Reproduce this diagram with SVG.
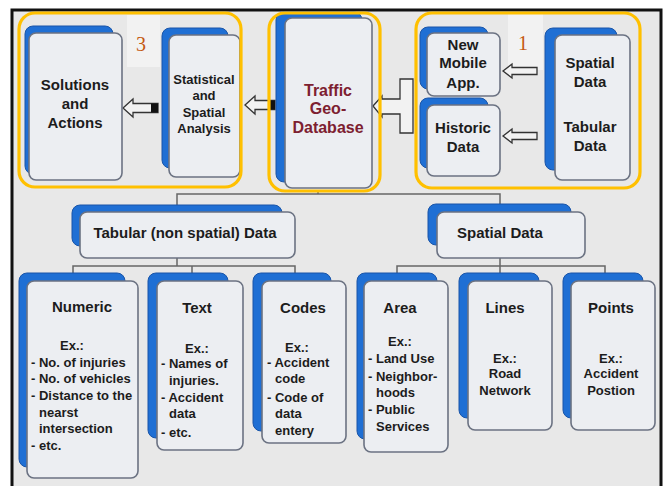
<svg xmlns="http://www.w3.org/2000/svg" width="668" height="486" viewBox="0 0 668 486">
<defs>
<style>
.back{fill:#1f6fd4;stroke:#1a55a8;stroke-width:1}
.front{fill:#eceef2;stroke:#6b7282;stroke-width:1.6}
.t{font-family:"Liberation Sans",Arial,sans-serif;font-weight:bold;fill:#1c1c1c}
.h{font-size:15px;text-anchor:middle}
.m{font-size:13px;text-anchor:middle}
.b{font-size:13px}
.c{text-anchor:middle}
.grp{fill:none;stroke:#ffc000;stroke-width:3.2}
.patch{fill:#f2f2f2}
.num{font-size:20px;fill:#c55a11;text-anchor:middle}
.conn{fill:none;stroke:#666;stroke-width:1.5}
.arr{fill:#f2f2f2;stroke:#333;stroke-width:1.3}
</style>
</defs>
<rect x="0" y="0" width="668" height="486" fill="#ffffff"/>
<rect x="12" y="10" width="649" height="482" fill="#e8e8e8" stroke="#111" stroke-width="3"/>

<g id="labels">
<rect class="patch" x="127" y="15" width="33" height="52"/>
<text class="num" x="141" y="51" font-family="Liberation Serif,serif">3</text>
<rect class="patch" x="307" y="23" width="33" height="49"/>
<text class="num" x="322" y="59" font-family="Liberation Sans,sans-serif" font-weight="bold">2</text>
<rect class="patch" x="508" y="14" width="35" height="56"/>
<text class="num" x="523" y="50" font-family="Liberation Serif,serif">1</text>
</g>

<g id="connectors">
<path class="conn" d="M318,190V194M177,205V194H500V205M177,258V266M73,273V266H295V273M192,266V273M500,258V266M397,273V266H605V273M500,266V273"/>
<path class="arr" d="M123,108L133,99V103.5H158V112.5H133V117Z"/>
<rect x="151" y="103.5" width="7" height="9" fill="#111"/>
<path class="arr" d="M245,105L255,96V100.5H275V109.5H255V114Z"/>
<rect x="269" y="100.5" width="6" height="9" fill="#111"/>
<path class="arr" d="M373,106L382,96V99H400V79H413V133H400V114H382V117Z"/>
<path class="arr" d="M503,71L512,64V67.5H537V74.5H512V78Z"/>
<path class="arr" d="M503,136L512,129V132.5H537V139.5H512V143Z"/>
</g>

<g id="n-solutions">
<rect class="back" x="25" y="26" width="88" height="148" rx="8"/>
<rect class="front" x="29" y="33" width="93" height="147" rx="7"/>
<text class="t h"><tspan x="75" y="90">Solutions</tspan><tspan x="75" y="109">and</tspan><tspan x="75" y="128">Actions</tspan></text>
</g>
<g id="n-statistical">
<rect class="back" x="162" y="28" width="66" height="140" rx="8"/>
<rect class="front" x="169" y="35" width="71" height="142" rx="7"/>
<text class="t m"><tspan x="204" y="84">Statistical</tspan><tspan x="204" y="100">and</tspan><tspan x="204" y="117">Spatial</tspan><tspan x="204" y="133">Analysis</tspan></text>
</g>
<g id="n-traffic">
<rect class="back" x="276" y="12" width="86" height="170" rx="8"/>
<rect class="front" x="285" y="18" width="87" height="170" rx="7"/>
<text class="t h" style="fill:#7d2030;font-size:16px"><tspan x="328" y="96">Traffic</tspan><tspan x="328" y="114">Geo-</tspan><tspan x="328" y="133">Database</tspan></text>
</g>
<g id="n-mobile">
<rect class="back" x="420" y="27" width="68" height="62" rx="8"/>
<rect class="front" x="427" y="33" width="73" height="63" rx="7"/>
<text class="t h"><tspan x="463" y="50">New</tspan><tspan x="463" y="68">Mobile</tspan><tspan x="463" y="88">App.</tspan></text>
</g>
<g id="n-historic">
<rect class="back" x="420" y="98" width="68" height="70" rx="8"/>
<rect class="front" x="427" y="105" width="73" height="71" rx="7"/>
<text class="t h"><tspan x="463" y="133">Historic</tspan><tspan x="463" y="152">Data</tspan></text>
</g>
<g id="n-spatial-tabular">
<rect class="back" x="545" y="28" width="72" height="142" rx="8"/>
<rect class="front" x="555" y="35" width="75" height="145" rx="7"/>
<text class="t h"><tspan x="590" y="68">Spatial</tspan><tspan x="590" y="87">Data</tspan><tspan x="590" y="132">Tabular</tspan><tspan x="590" y="151">Data</tspan></text>
</g>

<g id="clusters">
<rect class="grp" x="19" y="13" width="222" height="174" rx="16"/>
<rect class="grp" x="269" y="13" width="111" height="178" rx="16"/>
<rect class="grp" x="416" y="13" width="224" height="175" rx="16"/>
</g>

<g id="n-tabular">
<rect class="back" x="72" y="205" width="210" height="41" rx="8"/>
<rect class="front" x="80" y="212" width="215" height="46" rx="7"/>
<text class="t h" x="185" y="238">Tabular (non spatial) Data</text>
</g>
<g id="n-spatial">
<rect class="back" x="428" y="204" width="143" height="41" rx="8"/>
<rect class="front" x="437" y="212" width="148" height="46" rx="7"/>
<text class="t h" x="500" y="238">Spatial Data</text>
</g>

<g id="n-numeric">
<rect class="back" x="19" y="273" width="106" height="194" rx="8"/>
<rect class="front" x="27" y="281" width="111" height="197" rx="7"/>
<text class="t h" x="82" y="312">Numeric</text>
<text class="t b"><tspan class="c" x="72" y="350">Ex.:</tspan><tspan x="31" y="367">- No. of injuries</tspan><tspan x="31" y="383">- No. of vehicles</tspan><tspan x="31" y="400">- Distance to the</tspan><tspan x="39" y="417">nearst</tspan><tspan x="39" y="433">intersection</tspan><tspan x="31" y="450">- etc.</tspan></text>
</g>
<g id="n-text">
<rect class="back" x="148" y="273" width="80" height="165" rx="8"/>
<rect class="front" x="157" y="281" width="86" height="169" rx="7"/>
<text class="t h" x="197" y="313">Text</text>
<text class="t b"><tspan class="c" x="197" y="353">Ex.:</tspan><tspan x="161" y="368">- Names of</tspan><tspan x="169" y="385">injuries.</tspan><tspan x="161" y="402">- Accident</tspan><tspan x="169" y="418">data</tspan><tspan x="161" y="437">- etc.</tspan></text>
</g>
<g id="n-codes">
<rect class="back" x="253" y="273" width="78" height="158" rx="8"/>
<rect class="front" x="262" y="281" width="84" height="162" rx="7"/>
<text class="t h" x="303" y="313">Codes</text>
<text class="t b"><tspan class="c" x="297" y="352">Ex.:</tspan><tspan x="267" y="367">- Accident</tspan><tspan x="275" y="383">code</tspan><tspan x="267" y="402">- Code of</tspan><tspan x="275" y="418">data</tspan><tspan x="275" y="435">entery</tspan></text>
</g>
<g id="n-area">
<rect class="back" x="357" y="273" width="80" height="166" rx="8"/>
<rect class="front" x="364" y="281" width="84" height="171" rx="7"/>
<text class="t h" x="400" y="313">Area</text>
<text class="t b"><tspan class="c" x="400" y="346">Ex.:</tspan><tspan x="368" y="363">- Land Use</tspan><tspan x="368" y="381">- Neighbor-</tspan><tspan x="376" y="397">hoods</tspan><tspan x="368" y="414">- Public</tspan><tspan x="376" y="431">Services</tspan></text>
</g>
<g id="n-lines">
<rect class="back" x="459" y="273" width="80" height="145" rx="8"/>
<rect class="front" x="468" y="281" width="84" height="149" rx="7"/>
<text class="t h" x="505" y="313">Lines</text>
<text class="t m"><tspan x="505" y="363">Ex.:</tspan><tspan x="505" y="378">Road</tspan><tspan x="505" y="395">Network</tspan></text>
</g>
<g id="n-points">
<rect class="back" x="563" y="273" width="80" height="145" rx="8"/>
<rect class="front" x="571" y="281" width="84" height="149" rx="7"/>
<text class="t h" x="611" y="313">Points</text>
<text class="t m"><tspan x="611" y="363">Ex.:</tspan><tspan x="611" y="378">Accident</tspan><tspan x="611" y="395">Postion</tspan></text>
</g>
</svg>
